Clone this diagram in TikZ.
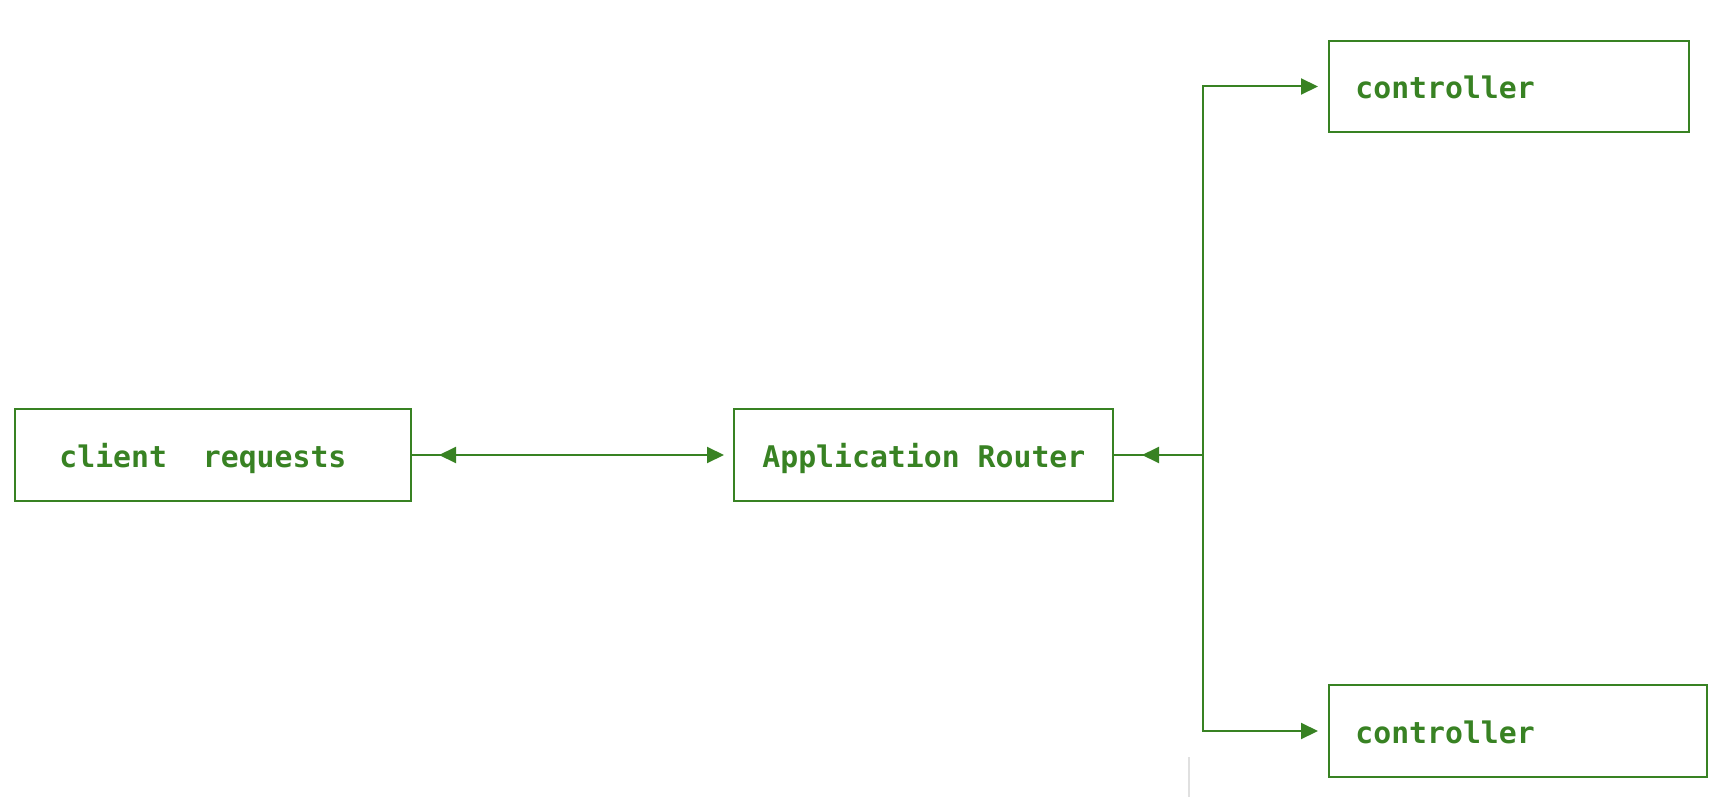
\documentclass[tikz,border=0pt]{standalone}
\usepackage{fontspec}
\setmonofont{DejaVu Sans Mono}
\usetikzlibrary{arrows.meta}
\definecolor{grn}{RGB}{56,130,35}
\tikzset{
  box/.style={draw=grn, line width=1pt, rectangle, inner sep=0pt},
  txt/.style={text=grn, inner sep=0pt, anchor=base west, font=\ttfamily\bfseries\fontsize{14.9}{18}\selectfont},
  conn/.style={draw=grn, line width=1pt},
  gtip/.tip={Triangle[length=8.5pt, width=8pt]},
}
\begin{document}
\begin{tikzpicture}[x=0.5pt, y=-0.5pt]
\useasboundingbox (0,0) rectangle (1734,797);
% boxes
\node[box, minimum width=198pt, minimum height=46pt] (client) at (213,455) {};
\node[box, minimum width=189.5pt, minimum height=46pt] (router) at (923.5,455) {};
\node[box, minimum width=180pt, minimum height=45.5pt] (ctrlA) at (1509,86.5) {};
\node[box, minimum width=189pt, minimum height=46pt] (ctrlB) at (1518,731) {};
% texts
\node[txt] (tclient) at (59,467) {client\ \ requests};
\node[txt] (trouter) at (762,467) {Application Router};
\node[txt] (tctrlA) at (1355,98.5) {controller};
\node[txt] (tctrlB) at (1355,743) {controller};
% junction
\coordinate (j) at (1203,455);
% connectors
\draw[conn] (client.east) -- ++(30,0);
\draw[conn, gtip-gtip, shorten <=13.5pt, shorten >=4.5pt] (client.east) -- (router.west);
\draw[conn] (router.east) -- ++(30,0);
\draw[conn, gtip-, shorten <=14pt] (router.east) -- (j);
\draw[conn, -gtip, shorten >=5pt] (j) |- (ctrlA.west);
\draw[conn, -gtip, shorten >=5pt] (j) |- (ctrlB.west);
% faint mark
\draw[black!12, line width=1pt] (1189,757) -- (1189,797);
\end{tikzpicture}
\end{document}
